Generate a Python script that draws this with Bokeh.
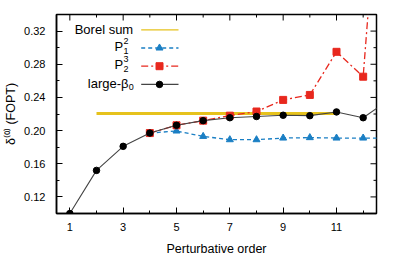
from bokeh.plotting import figure
from bokeh.models import FixedTicker, Range1d, NumeralTickFormatter
from bokeh.core.properties import value
from bokeh.embed import file_html
from bokeh.resources import INLINE

# ---------------- data ----------------
orders = [1, 2, 3, 4, 5, 6, 7, 8, 9, 10, 11, 12, 13]
large_beta0 = [0.100, 0.152, 0.181, 0.197, 0.2064, 0.212, 0.2155, 0.217, 0.2185, 0.218, 0.2225, 0.2155, 0.238]

p12_orders = [4, 5, 6, 7, 8, 9, 10, 11, 12, 13]
p12 = [0.197, 0.1995, 0.193, 0.189, 0.189, 0.191, 0.1915, 0.191, 0.191, 0.191]

p23_orders = [4, 5, 6, 7, 8, 9, 10, 11, 12, 13]
p23 = [0.197, 0.2064, 0.212, 0.218, 0.223, 0.237, 0.243, 0.295, 0.265, 0.68]

borel_orders = [2, 11]
borel = [0.2205, 0.2205]

x_ticks = [1, 3, 5, 7, 9, 11]
x_minor = [2, 4, 6, 8, 10, 12]
y_ticks = [0.12, 0.16, 0.20, 0.24, 0.28, 0.32]
y_minor = [0.10, 0.14, 0.18, 0.22, 0.26, 0.30, 0.34]

x_label = "Perturbative order"
y_label = "δ⁽⁰⁾ (FOPT)"

# ---------------- style ----------------
FONT = "Liberation Sans"
C_BOREL = "#e6c21c"
C_BLUE = "#1a7fc4"
C_RED = "#e8281e"
C_BLACK = "#000000"
C_BLINE = "#444444"

XR = (0.5, 12.5)
YR = (0.10, 0.34)
FW, FH = 320, 199
MAJ, MIN = 6, 3

p = figure(frame_width=FW, frame_height=FH,
           x_range=Range1d(*XR), y_range=Range1d(*YR),
           output_backend="svg", toolbar_location=None,
           min_border_left=56, min_border_right=16,
           min_border_top=14, min_border_bottom=10)
p.background_fill_color = "white"
p.border_fill_color = "white"
p.outline_line_color = "black"
p.outline_line_width = 1.5
p.xgrid.visible = False
p.ygrid.visible = False


def style_axis(ax):
    ax.axis_line_color = "black"
    ax.axis_line_width = 1.5
    ax.major_tick_in = MAJ
    ax.major_tick_out = 0
    ax.minor_tick_in = MIN
    ax.minor_tick_out = 0
    ax.major_tick_line_color = "black"
    ax.minor_tick_line_color = "black"
    ax.major_label_text_font = FONT
    ax.major_label_text_color = "black"
    ax.major_label_text_font_size = "11px"
    ax.axis_label_text_font = FONT
    ax.axis_label_text_font_size = "12.5px"
    ax.axis_label_text_font_style = "normal"
    ax.axis_label_text_color = "black"


xa = p.xaxis[0]
xa.ticker = FixedTicker(ticks=x_ticks, minor_ticks=x_minor)
style_axis(xa)
xa.major_label_standoff = 9
xa.axis_label = x_label
xa.axis_label_standoff = 8

ya = p.yaxis[0]
ya.ticker = FixedTicker(ticks=y_ticks, minor_ticks=y_minor)
ya.formatter = NumeralTickFormatter(format="0.00")
style_axis(ya)
ya.major_label_standoff = 11
ya.axis_label = y_label
ya.axis_label_standoff = 3


def fx(px):
    return XR[0] + px / FW * (XR[1] - XR[0])


def fy(py):
    return YR[1] - py / FH * (YR[1] - YR[0])


# mirrored ticks on the top and right edges (gnuplot "mirror")
p.segment(x0=x_ticks, y0=[YR[1]] * len(x_ticks), x1=x_ticks, y1=[fy(MAJ)] * len(x_ticks),
          line_color="black", line_width=1)
p.segment(x0=x_minor, y0=[YR[1]] * len(x_minor), x1=x_minor, y1=[fy(MIN)] * len(x_minor),
          line_color="black", line_width=1)
p.segment(x0=[XR[1]] * len(y_ticks), y0=y_ticks, x1=[fx(FW - MAJ)] * len(y_ticks), y1=y_ticks,
          line_color="black", line_width=1)
p.segment(x0=[XR[1]] * len(y_minor), y0=y_minor, x1=[fx(FW - MIN)] * len(y_minor), y1=y_minor,
          line_color="black", line_width=1)

# ---------------- series ----------------
p.line(borel_orders, borel, line_color=C_BOREL, line_width=3)

p.line(p12_orders, p12, line_color=C_BLUE, line_width=1.3, line_dash="4 3")
p.scatter(p12_orders, p12, marker="triangle", size=7, fill_color=C_BLUE, line_color=C_BLUE)

p.line(p23_orders, p23, line_color=C_RED, line_width=1.3, line_dash="7 3 2 3")
p.scatter(p23_orders, p23, marker="square", size=7, fill_color=C_RED, line_color=C_RED)

p.line(orders, large_beta0, line_color=C_BLINE, line_width=1.1)
p.scatter(orders, large_beta0, marker="circle", size=6.5, fill_color=C_BLACK, line_color=C_BLACK)

# ---------------- legend (gnuplot style: text left, sample right) ----------------
rows = [15.3, 33.5, 51.7, 69.9]
TXT_R = 76.7
S0, S1, SM = 84.7, 122.0, 103.0
LF = value(FONT)
LFS = "13px"
SFS = "9px"

p.text([fx(TXT_R)], [fy(rows[0])], text=["Borel sum"], text_font=LF, text_font_size=LFS,
       text_align="right", text_baseline="middle", text_color="black")
p.line([fx(S0), fx(S1)], [fy(rows[0])] * 2, line_color=C_BOREL, line_width=1.3)

for r, (sup, sub), col, dash, mk in [
    (rows[1], ("2", "1"), C_BLUE, "4 3", "triangle"),
    (rows[2], ("3", "2"), C_RED, "7 3 2 3", "square"),
]:
    p.text([fx(TXT_R - 10)], [fy(r - 1.5)], text=["P"], text_font=LF, text_font_size=LFS,
           text_align="right", text_baseline="middle", text_color="black")
    p.text([fx(TXT_R - 9.6)], [fy(r - 7)], text=[sup], text_font=LF, text_font_size=SFS,
           text_align="left", text_baseline="middle", text_color="black")
    p.text([fx(TXT_R - 9.6)], [fy(r + 2.5)], text=[sub], text_font=LF, text_font_size=SFS,
           text_align="left", text_baseline="middle", text_color="black")
    p.line([fx(S0), fx(S1)], [fy(r)] * 2, line_color=col, line_width=1.3, line_dash=dash)
    p.scatter([fx(SM)], [fy(r)], marker=mk, size=7, fill_color=col, line_color=col)

p.text([fx(TXT_R - 4.7)], [fy(rows[3] - 1)], text=["large-β"], text_font=LF, text_font_size=LFS,
       text_align="right", text_baseline="middle", text_color="black")
p.text([fx(TXT_R - 4.5)], [fy(rows[3] + 2.5)], text=["0"], text_font=LF, text_font_size=SFS,
       text_align="left", text_baseline="middle", text_color="black")
p.line([fx(S0), fx(S1)], [fy(rows[3])] * 2, line_color=C_BLINE, line_width=1.1)
p.scatter([fx(SM)], [fy(rows[3])], marker="circle", size=6.5, fill_color=C_BLACK, line_color=C_BLACK)

open("out.html", "w").write(file_html(p, INLINE))
